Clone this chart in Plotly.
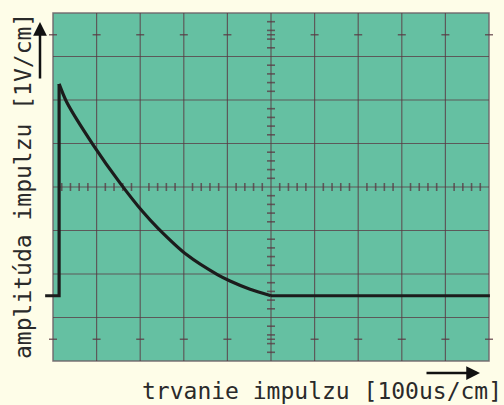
import plotly.graph_objects as go
import numpy as np

# ---- data (in graticule divisions) ----
rise_t = [-0.18, 0.14, 0.14]
rise_a = [-2.5, -2.5, 2.37]
decay_t = [0.14, 0.31, 0.92, 1.54, 2.06, 2.41, 3.07, 3.78, 4.06, 4.52, 5.0]
decay_a = [2.37, 1.96, 0.97, 0.09, -0.57, -0.95, -1.56, -2.02, -2.16, -2.35, -2.5]
tail_t = [5.0, 10.02]
tail_a = [-2.5, -2.5]

x_label = "trvanie impulzu [100us/cm]"
y_label = "amplitúda impulzu [1V/cm]"

# graticule
x_divs = list(range(0, 11))
y_divs = list(range(-4, 5))

W, H = 504, 405
PX0, PXD = 53, 43.6
PY0, PYD = 13, 43.5
xr = [(0 - PX0) / PXD, (W - PX0) / PXD]
yr = [4 - (H - PY0) / PYD, 4 - (0 - PY0) / PYD]

BG = "#fefde8"
SCREEN = "#65c0a2"
GRID = "rgba(90,55,65,0.75)"
TRACE = "#1c1c1c"
FONT = "DejaVu Sans Mono"

fig = go.Figure()

shapes = []
shapes.append(dict(type="rect", x0=0, x1=10, y0=-4, y1=4, fillcolor=SCREEN,
                   line=dict(color="rgba(110,100,105,0.9)", width=1.5), layer="below"))
for xv in x_divs[1:-1]:
    shapes.append(dict(type="line", x0=xv, x1=xv, y0=-4, y1=4,
                       line=dict(color=GRID, width=1.2), layer="below"))
for yv in y_divs[1:-1]:
    shapes.append(dict(type="line", x0=0, x1=10, y0=yv, y1=yv,
                       line=dict(color=GRID, width=1.2), layer="below"))
# center axis minor ticks
tx = 4.0 / PXD
ty = 4.0 / PYD
for xv in np.arange(0, 10.001, 0.2):
    if abs(xv - round(xv)) < 1e-6:
        continue
    shapes.append(dict(type="line", x0=xv, x1=xv, y0=-ty, y1=ty,
                       line=dict(color=GRID, width=1.6), layer="below"))
for yv in np.arange(-4, 4.001, 0.2):
    if abs(yv - round(yv)) < 1e-6:
        continue
    shapes.append(dict(type="line", x0=5 - tx, x1=5 + tx, y0=yv, y1=yv,
                       line=dict(color=GRID, width=1.6), layer="below"))
# half-division dashes near top and bottom rows
for xv in x_divs:
    for yv in (3.5, -3.5):
        shapes.append(dict(type="line", x0=xv - tx, x1=xv + tx, y0=yv, y1=yv,
                           line=dict(color=GRID, width=1.5), layer="below"))

fig.add_trace(go.Scatter(x=rise_t, y=rise_a, mode="lines",
                         line=dict(color=TRACE, width=3.2), hoverinfo="skip"))
fig.add_trace(go.Scatter(x=decay_t, y=decay_a, mode="lines",
                         line=dict(color=TRACE, width=3.2, shape="spline", smoothing=0.7),
                         hoverinfo="skip"))
fig.add_trace(go.Scatter(x=tail_t, y=tail_a, mode="lines",
                         line=dict(color=TRACE, width=3.2), hoverinfo="skip"))

annotations = [
    dict(text=x_label, x=321.5 / W, y=1 - 391 / H, xref="paper", yref="paper",
         showarrow=False, xanchor="center", yanchor="middle",
         font=dict(family=FONT, size=23, color="#2a2a2a")),
    dict(text=y_label, x=23 / W, y=1 - 186 / H, xref="paper", yref="paper",
         showarrow=False, xanchor="center", yanchor="middle", textangle=-90,
         font=dict(family=FONT, size=23, color="#2a2a2a")),
    dict(text="", x=480 / W, y=1 - 373 / H, xref="paper", yref="paper",
         ax=-55, ay=0, showarrow=True, arrowhead=2, arrowsize=1.1, arrowwidth=2.5,
         arrowcolor="#111111"),
    dict(text="", x=40 / W, y=1 - 22 / H, xref="paper", yref="paper",
         ax=0, ay=58, showarrow=True, arrowhead=2, arrowsize=1.1, arrowwidth=2.5,
         arrowcolor="#111111"),
]

fig.update_layout(
    width=W, height=H, margin=dict(l=0, r=0, t=0, b=0),
    paper_bgcolor=BG, plot_bgcolor=BG, showlegend=False,
    shapes=shapes, annotations=annotations,
    xaxis=dict(range=xr, visible=False, fixedrange=True),
    yaxis=dict(range=yr, visible=False, fixedrange=True),
)

fig.write_html("out.html")
